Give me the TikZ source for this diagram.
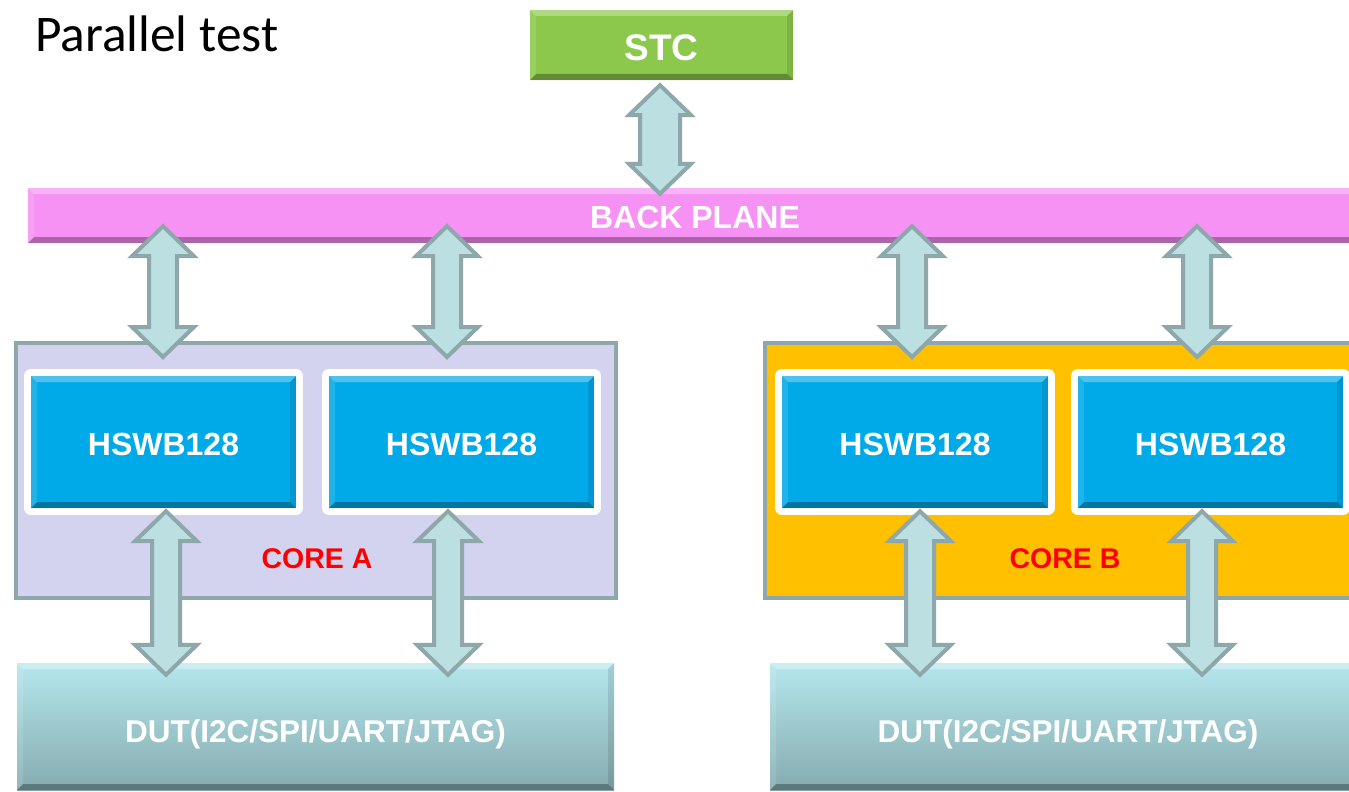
\documentclass[tikz,border=0pt]{standalone}
\usepackage{fontspec}
\setmainfont{Liberation Sans}
\newfontfamily\titlefont{Carlito}
\usetikzlibrary{calc}

\definecolor{stcgreen}{HTML}{8CC84B}
\definecolor{bppink}{HTML}{F592F4}
\definecolor{hsblue}{HTML}{00A9E8}
\definecolor{dutTop}{HTML}{B4E7ED}
\definecolor{dutBot}{HTML}{86ABAF}
\definecolor{coreAfill}{HTML}{D3D3EF}
\definecolor{coreBfill}{HTML}{FFC000}
\definecolor{frameline}{HTML}{8DA7AA}
\definecolor{arrowfill}{HTML}{BCDFE2}
\definecolor{corered}{HTML}{FF0000}

\newcommand\bvw{6pt}
% two-headed block arrow between two points: #1 upper tip, #2 lower tip, #3 half shaft width
\newcommand\biarrow[3]{%
  \draw[blockarrow] let \p1=#1, \p2=#2 in
    (\x1,\y1) -- (\x1+31pt,\y1-30pt) -- (\x1+#3pt,\y1-30pt) -- (\x1+#3pt,\y2+30pt)
    -- (\x1+31pt,\y2+30pt) -- (\x1,\y2) -- (\x1-31pt,\y2+30pt) -- (\x1-#3pt,\y2+30pt)
    -- (\x1-#3pt,\y1-30pt) -- (\x1-31pt,\y1-30pt) -- cycle;}

\tikzset{
  bevel/.style={path picture={
    \path (path picture bounding box.north west) coordinate (pNW)
          (path picture bounding box.north east) coordinate (pNE)
          (path picture bounding box.south east) coordinate (pSE)
          (path picture bounding box.south west) coordinate (pSW);
    \fill[white,fill opacity=.30] (pNW) -- (pNE) -- ([shift={(-\bvw,-\bvw)}]pNE) -- ([shift={(\bvw,-\bvw)}]pNW) -- cycle;
    \fill[black,fill opacity=.10] (pNE) -- (pSE) -- ([shift={(-\bvw,\bvw)}]pSE) -- ([shift={(-\bvw,-\bvw)}]pNE) -- cycle;
    \fill[black,fill opacity=.30] (pSE) -- (pSW) -- ([shift={(\bvw,\bvw)}]pSW) -- ([shift={(-\bvw,\bvw)}]pSE) -- cycle;
    \fill[white,fill opacity=.12] (pSW) -- (pNW) -- ([shift={(\bvw,-\bvw)}]pNW) -- ([shift={(\bvw,\bvw)}]pSW) -- cycle;
  }},
  boxtext/.style={text=white, font=\bfseries},
  stcbox/.style={rectangle, inner sep=0pt, fill=stcgreen, bevel, boxtext,
    minimum width=263pt, minimum height=70pt, text height=32pt, text depth=0pt,
    font=\bfseries\fontsize{37}{44}\selectfont},
  planebox/.style={rectangle, inner sep=0pt, fill=bppink, bevel, boxtext,
    minimum width=1334pt, minimum height=55pt, text height=26pt, text depth=0pt,
    font=\bfseries\fontsize{32}{38}\selectfont},
  hswbbox/.style={rectangle, inner sep=0pt, fill=hsblue, bevel, boxtext,
    minimum height=132pt, text height=26pt, text depth=0pt,
    font=\bfseries\fontsize{32}{38}\selectfont,
    preaction={draw=white, line width=14pt, line join=round}},
  dutbox/.style={rectangle, inner sep=0pt, top color=dutTop, bottom color=dutBot, bevel, boxtext,
    minimum height=127pt, text height=31pt, text depth=0pt,
    font=\bfseries\fontsize{31.5}{38}\selectfont},
  corebox/.style={rectangle, inner sep=0pt, draw=frameline, line width=4pt,
    minimum height=255pt},
  corelabel/.style={text=corered, font=\bfseries\fontsize{28.5}{34}\selectfont},
  blockarrow/.style={fill=arrowfill, draw=frameline, line width=4pt, line join=miter},
}

\begin{document}
\begin{tikzpicture}[x=1pt,y=-1pt]
\useasboundingbox[fill=white] (0,0) rectangle (1349,792);

% heading
\node[anchor=base west, inner sep=0pt, font=\titlefont\fontsize{51.4}{58}\selectfont] (title) at (35,52) {Parallel test};

% controller and back plane
\node[stcbox] (stc) at (661.5,45) {STC};
\node[planebox] (bp) at (695,215.5) {BACK PLANE};

% core frames
\node[corebox, fill=coreAfill, minimum width=600pt] (ca) at (316,470.5) {};
\node[corebox, fill=coreBfill, minimum width=635pt] (cb) at (1082.5,470.5) {};
\node[corelabel] (cal) at (317,558.5) {CORE A};
\node[corelabel] (cbl) at (1065,558.5) {CORE B};

% switch boards
\node[hswbbox, minimum width=265pt] (a1) at (163.5,442) {HSWB128};
\node[hswbbox, minimum width=265pt] (a2) at (461.5,442) {HSWB128};
\node[hswbbox, minimum width=266pt] (b1) at (915,442) {HSWB128};
\node[hswbbox, minimum width=265pt] (b2) at (1210.5,442) {HSWB128};

% devices under test
\node[dutbox, minimum width=597pt] (da) at (315.5,726.5) {DUT(I2C/SPI/UART/JTAG)};
\node[dutbox, minimum width=596pt] (db) at (1068,726.5) {DUT(I2C/SPI/UART/JTAG)};

% links
\biarrow{($(stc.south)+(-1.5,5)$)}{($(stc.south |- bp.north)+(-1.5,6)$)}{20}

\biarrow{($(a1.north |- bp.south)+(-0.5,-17)$)}{($(a1.north |- ca.north)+(-0.5,16)$)}{14}
\biarrow{($(a2.north |- bp.south)+(-14.5,-17)$)}{($(a2.north |- ca.north)+(-14.5,16)$)}{14}
\biarrow{($(b1.north |- bp.south)+(-3,-17)$)}{($(b1.north |- cb.north)+(-3,16)$)}{14}
\biarrow{($(b2.north |- bp.south)+(-13.5,-17)$)}{($(b2.north |- cb.north)+(-13.5,16)$)}{14}

\biarrow{($(a1.south)+(2.5,3)$)}{($(a1.south |- da.north)+(2.5,12)$)}{14}
\biarrow{($(a2.south)+(-13.5,3)$)}{($(a2.south |- da.north)+(-13.5,12)$)}{14}
\biarrow{($(b1.south)+(5,3)$)}{($(b1.south |- db.north)+(5,12)$)}{14}
\biarrow{($(b2.south)+(-8.5,3)$)}{($(b2.south |- db.north)+(-8.5,12)$)}{14}
\end{tikzpicture}
\end{document}
